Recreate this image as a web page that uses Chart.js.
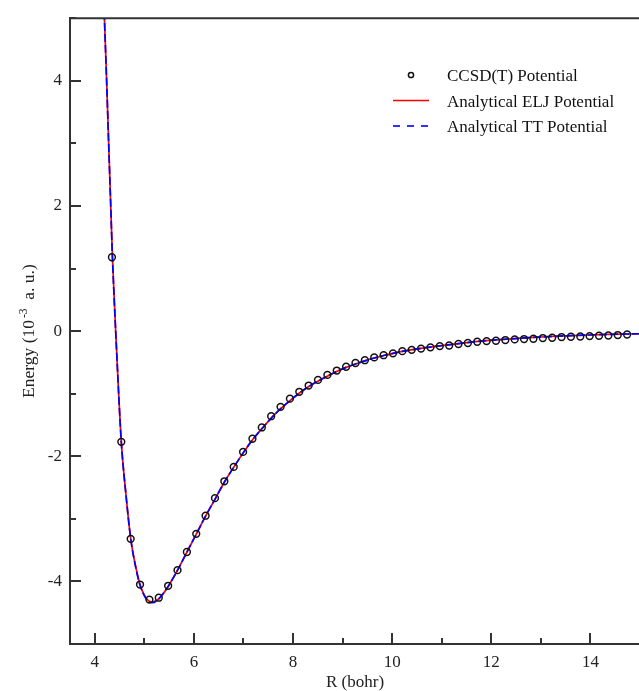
<!DOCTYPE html>
<html>
<head>
<meta charset="utf-8">
<script src="https://cdn.jsdelivr.net/npm/chart.js@4.4.1/dist/chart.umd.min.js"></script>
<style>
  html, body { margin: 0; padding: 0; overflow: hidden; background: #fff; }
  #wrap { width: 648px; height: 691px; position: relative; }
</style>
</head>
<body>
<div id="wrap"><canvas id="pes"></canvas></div>
<script>
// CCSD(T) points: R in bohr, energy in 10^-3 a.u.
const ccsdR = [4.346, 4.535, 4.724, 4.913, 5.102, 5.291, 5.480, 5.669, 5.858, 6.047, 6.236, 6.425, 6.614, 6.803,
  6.992, 7.181, 7.370, 7.559, 7.748, 7.937, 8.126, 8.315, 8.504, 8.693, 8.882, 9.071, 9.260, 9.449, 9.638, 9.827,
  10.016, 10.205, 10.394, 10.583, 10.772, 10.961, 11.150, 11.338, 11.527, 11.716, 11.905, 12.094, 12.283, 12.472,
  12.661, 12.850, 13.039, 13.228, 13.417, 13.606, 13.795, 13.984, 14.173, 14.362, 14.551, 14.740];
const ccsdE = [1.18, -1.77, -3.32, -4.05, -4.29, -4.26, -4.07, -3.82, -3.53, -3.24, -2.95, -2.67, -2.40, -2.17,
  -1.93, -1.72, -1.54, -1.36, -1.21, -1.08, -0.97, -0.87, -0.78, -0.70, -0.63, -0.57, -0.51, -0.465, -0.42, -0.385,
  -0.355, -0.32, -0.30, -0.28, -0.26, -0.24, -0.23, -0.206, -0.19, -0.17, -0.16, -0.154, -0.143, -0.133,
  -0.127, -0.122, -0.111, -0.106, -0.095, -0.09, -0.086, -0.08, -0.074, -0.07, -0.063, -0.054];

// analytical ELJ curve (red, solid)
const eljR = [4.19, 4.239, 4.28, 4.322, 4.356, 4.43, 4.535, 4.63, 4.724, 4.83, 4.913, 5.03, 5.16, 5.29, 5.48, 5.67,
  5.86, 6.05, 6.24, 6.43, 6.61, 6.80, 6.99, 7.18, 7.37, 7.56, 7.75, 7.94, 8.13, 8.31, 8.50, 8.69, 8.88, 9.07, 9.26,
  9.45, 9.64, 9.83, 10.02, 10.2, 10.58, 10.96, 11.34, 11.72, 12.09, 12.47, 12.85, 13.23, 13.61, 13.98, 14.36, 14.74, 15.0];
const eljE = [5.1, 4.0, 3.0, 2.0, 1.18, -0.14, -1.77, -2.62, -3.31, -3.78, -4.05, -4.26, -4.33, -4.28, -4.08, -3.82,
  -3.53, -3.24, -2.95, -2.68, -2.42, -2.18, -1.95, -1.74, -1.56, -1.39, -1.24, -1.11, -0.99, -0.89, -0.80, -0.72,
  -0.645, -0.58, -0.525, -0.475, -0.43, -0.39, -0.355, -0.325, -0.275, -0.235, -0.20, -0.165, -0.14, -0.12, -0.10,
  -0.085, -0.072, -0.062, -0.053, -0.046, -0.042];

// analytical TT curve (blue, dashed)
const ttR = [4.19, 4.239, 4.28, 4.322, 4.356, 4.43, 4.535, 4.63, 4.724, 4.83, 4.913, 5.03, 5.16, 5.29, 5.48, 5.67,
  5.86, 6.05, 6.24, 6.43, 6.61, 6.80, 6.99, 7.18, 7.37, 7.56, 7.75, 7.94, 8.13, 8.31, 8.50, 8.69, 8.88, 9.07, 9.26,
  9.45, 9.64, 9.83, 10.02, 10.2, 10.58, 10.96, 11.34, 11.72, 12.09, 12.47, 12.85, 13.23, 13.61, 13.98, 14.36, 14.74, 15.0];
const ttE = [5.1, 4.0, 3.0, 2.0, 1.18, -0.14, -1.77, -2.62, -3.31, -3.79, -4.06, -4.27, -4.34, -4.28, -4.08, -3.82,
  -3.53, -3.24, -2.95, -2.68, -2.42, -2.18, -1.95, -1.74, -1.56, -1.39, -1.24, -1.11, -0.99, -0.89, -0.80, -0.72,
  -0.645, -0.58, -0.525, -0.475, -0.43, -0.39, -0.355, -0.325, -0.275, -0.235, -0.20, -0.165, -0.14, -0.12, -0.10,
  -0.085, -0.072, -0.062, -0.053, -0.046, -0.042];

const xLabels = [4, 6, 8, 10, 12, 14];
const yLabels = [-4, -2, 0, 2, 4];
const legendNames = ["CCSD(T) Potential", "Analytical ELJ Potential", "Analytical TT Potential"];

const FONT = '"Liberation Serif", "Times New Roman", serif';
const INK = "#222";
const AXIS = "#333";

const pts = (xs, ys) => xs.map((x, i) => ({ x, y: ys[i] }));

// frame top line + inward ticks (major on labelled values, minor in between)
const framePlugin = {
  id: "frame",
  afterDatasetsDraw(chart) {
    const { ctx, chartArea: a, scales: { x, y } } = chart;
    ctx.save();
    ctx.strokeStyle = AXIS;
    ctx.lineWidth = 2;
    ctx.beginPath();
    ctx.moveTo(a.left - 1, a.top);
    ctx.lineTo(a.right, a.top);
    ctx.stroke();

    ctx.lineWidth = 2;
    ctx.beginPath();
    x.ticks.forEach(t => {
      if (!Number.isInteger(t.value)) return;
      const px = Math.round(x.getPixelForValue(t.value));
      const len = xLabels.includes(t.value) ? 11 : 6;
      ctx.moveTo(px, a.bottom);
      ctx.lineTo(px, a.bottom - len);
    });
    y.ticks.forEach(t => {
      if (!Number.isInteger(t.value)) return;
      const py = Math.round(y.getPixelForValue(t.value));
      const len = yLabels.includes(t.value) ? 11 : 6;
      ctx.moveTo(a.left, py);
      ctx.lineTo(a.left + len, py);
    });
    ctx.stroke();
    ctx.restore();
  },
  afterDraw(chart) {
    const { ctx, chartArea: a } = chart;
    const ds = chart.data.datasets;
    ctx.save();

    // legend
    ctx.font = "17px " + FONT;
    ctx.fillStyle = "#111";
    ctx.textBaseline = "alphabetic";
    const rows = [81, 106.5, 132];
    const lx0 = 393, lx1 = 429, tx = 447;
    // circle entry
    ctx.strokeStyle = ds[0].borderColor;
    ctx.lineWidth = 1.5;
    ctx.beginPath();
    ctx.arc((lx0 + lx1) / 2, rows[0] - 6, 2.6, 0, Math.PI * 2);
    ctx.stroke();
    ctx.fillText(legendNames[0], tx, rows[0]);
    // ELJ
    ctx.strokeStyle = ds[2].borderColor;
    ctx.lineWidth = 1.6;
    ctx.beginPath();
    ctx.moveTo(lx0, rows[1] - 6); ctx.lineTo(lx1, rows[1] - 6);
    ctx.stroke();
    ctx.fillText(legendNames[1], tx, rows[1]);
    // TT
    ctx.strokeStyle = ds[1].borderColor;
    ctx.setLineDash([7, 7]);
    ctx.beginPath();
    ctx.moveTo(lx0, rows[2] - 6); ctx.lineTo(lx1, rows[2] - 6);
    ctx.stroke();
    ctx.setLineDash([]);
    ctx.fillText(legendNames[2], tx, rows[2]);

    // y axis title with superscript
    const main = "17.5px " + FONT, sup = "11.5px " + FONT;
    const p1 = "Energy (10", p2 = "-3", p3 = "  a. u.)";
    ctx.font = main; const w1 = ctx.measureText(p1).width, w3 = ctx.measureText(p3).width;
    ctx.font = sup; const w2 = ctx.measureText(p2).width;
    const gap = 2;
    const total = w1 + gap + w2 + w3;
    ctx.translate(33.5, (a.top + a.bottom) / 2);
    ctx.rotate(-Math.PI / 2);
    ctx.fillStyle = INK;
    let cx = -total / 2;
    ctx.font = main; ctx.fillText(p1, cx, 0); cx += w1 + gap;
    ctx.font = sup; ctx.fillText(p2, cx, -7); cx += w2;
    ctx.font = main; ctx.fillText(p3, cx, 0);
    ctx.restore();
  }
};

new Chart(document.getElementById("pes"), {
  type: "scatter",
  data: {
    datasets: [
      {
        label: legendNames[0],
        data: pts(ccsdR, ccsdE),
        showLine: false,
        pointStyle: "circle",
        pointRadius: 3.4,
        pointBorderWidth: 1.5,
        borderColor: "#111",
        backgroundColor: "rgba(0,0,0,0)",
        order: 0
      },
      {
        label: legendNames[2],
        data: pts(ttR, ttE),
        showLine: true,
        borderColor: "#0000ff",
        borderWidth: 1.7,
        borderDash: [8, 3],
        pointRadius: 0,
        cubicInterpolationMode: "monotone",
        order: 1
      },
      {
        label: legendNames[1],
        data: pts(eljR, eljE),
        showLine: true,
        borderColor: "#ff0000",
        borderWidth: 1.7,
        pointRadius: 0,
        cubicInterpolationMode: "monotone",
        order: 2
      }
    ]
  },
  options: {
    responsive: true,
    maintainAspectRatio: false,
    animation: false,
    layout: { padding: { top: 14, right: 0, left: 0, bottom: 0 } },
    plugins: { legend: { display: false }, tooltip: { enabled: false } },
    scales: {
      x: {
        type: "linear",
        min: 3.5,
        max: 15,
        grid: { display: false, drawTicks: false },
        border: { display: true, color: AXIS, width: 2 },
        ticks: {
          stepSize: 1,
          includeBounds: false,
          autoSkip: false,
          maxRotation: 0,
          padding: 8,
          color: INK,
          font: { family: FONT, size: 17 },
          callback: v => xLabels.includes(v) ? String(v) : ""
        },
        title: {
          display: true,
          text: "R (bohr)",
          color: INK,
          font: { family: FONT, size: 17, lineHeight: 1 },
          padding: { top: 0, bottom: 0 }
        },
        afterFit: s => { s.height = 47; }
      },
      y: {
        type: "linear",
        min: -5,
        max: 5,
        grid: { display: false, drawTicks: false },
        border: { display: true, color: AXIS, width: 2 },
        ticks: {
          stepSize: 1,
          includeBounds: false,
          autoSkip: false,
          padding: 8,
          color: INK,
          font: { family: FONT, size: 17 },
          callback: v => yLabels.includes(v) ? String(v) : ""
        },
        afterFit: s => { s.width = 70; }
      }
    }
  },
  plugins: [framePlugin]
});
</script>
</body>
</html>
